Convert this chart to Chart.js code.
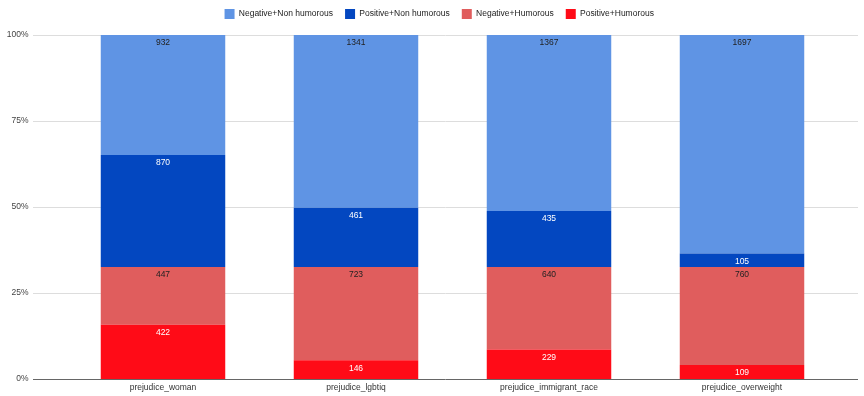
<!DOCTYPE html>
<html>
<head>
<meta charset="utf-8">
<script src="https://cdn.jsdelivr.net/npm/chart.js@4.4.1/dist/chart.umd.min.js"></script>
<style>
  html, body { margin: 0; padding: 0; background: #fff; }
  #wrap { position: relative; width: 864px; height: 396px; }
</style>
</head>
<body>
<div id="wrap"><canvas id="chart"></canvas></div>
<script>
// categories + counts per series (stacked to 100%)
const categories = ['prejudice_woman', 'prejudice_lgbtiq', 'prejudice_immigrant_race', 'prejudice_overweight'];
const posHumorous = [422, 146, 229, 109];
const negHumorous = [447, 723, 640, 760];
const posNonHumorous = [870, 461, 435, 105];
const negNonHumorous = [932, 1341, 1367, 1697];
const yTicks = ['0%', '25%', '50%', '75%', '100%'];

const totals = categories.map((c, i) => posHumorous[i] + negHumorous[i] + posNonHumorous[i] + negNonHumorous[i]);
const pct = arr => arr.map((v, i) => v / totals[i] * 100);

const FONT = '"Liberation Sans", Arial, sans-serif';

// bottom-to-top stacking order
const series = [
  { label: 'Positive+Humorous', counts: posHumorous, color: '#ff0b17', text: '#ffffff', legendPos: 3 },
  { label: 'Negative+Humorous', counts: negHumorous, color: '#e05d5d', text: '#222222', legendPos: 2 },
  { label: 'Positive+Non humorous', counts: posNonHumorous, color: '#0347c0', text: '#ffffff', legendPos: 1 },
  { label: 'Negative+Non humorous', counts: negNonHumorous, color: '#5f94e4', text: '#222222', legendPos: 0 }
];

// extended horizontal grid lines (Sheets style)
const gridPlugin = {
  id: 'gridExt',
  afterLayout(chart) {
    // nudge legend to sit centred over the whole canvas, close to the top
    chart.legend.left += 20;
    chart.legend.right += 20;
    chart.legend.top -= 6;
    chart.legend.bottom -= 6;
  },
  beforeDatasetsDraw(chart) {
    const ctx = chart.ctx, y = chart.scales.y;
    ctx.save();
    y.ticks.forEach(t => {
      const py = Math.round(y.getPixelForValue(t.value)) + 0.5;
      ctx.strokeStyle = t.value === 0 ? '#666666' : '#dddddd';
      ctx.lineWidth = 1;
      ctx.beginPath();
      ctx.moveTo(33, py);
      ctx.lineTo(858, py);
      ctx.stroke();
    });
    ctx.restore();
  }
};

// count labels at the top of each segment
const labelPlugin = {
  id: 'segLabels',
  afterDatasetsDraw(chart) {
    const ctx = chart.ctx;
    ctx.save();
    ctx.font = '8.5px ' + FONT;
    ctx.textAlign = 'center';
    ctx.textBaseline = 'middle';
    chart.data.datasets.forEach((ds, di) => {
      const meta = chart.getDatasetMeta(di);
      meta.data.forEach((bar, i) => {
        ctx.fillStyle = series[di].text;
        ctx.fillText(String(series[di].counts[i]), bar.x, bar.y + 8);
      });
    });
    ctx.restore();
  }
};

new Chart(document.getElementById('chart'), {
  type: 'bar',
  data: {
    labels: categories,
    datasets: series.map(s => ({
      label: s.label,
      data: pct(s.counts),
      backgroundColor: s.color,
      borderWidth: 0,
      categoryPercentage: 1,
      barPercentage: 0.645
    }))
  },
  options: {
    responsive: true,
    maintainAspectRatio: false,
    animation: false,
    layout: { padding: { left: 0, right: 25.5, top: 0, bottom: 0 } },
    plugins: {
      tooltip: { enabled: false },
      legend: {
        position: 'top',
        labels: {
          boxWidth: 10,
          boxHeight: 10,
          padding: 12,
          color: '#222222',
          font: { family: FONT, size: 8.5 },
          sort: (a, b) => series[a.datasetIndex].legendPos - series[b.datasetIndex].legendPos
        }
      }
    },
    scales: {
      x: {
        stacked: true,
        grid: { display: false, drawTicks: false },
        border: { display: false },
        ticks: {
          color: '#333333',
          padding: 4,
          font: { family: FONT, size: 8.5 }
        },
        afterFit: s => { s.height = 17; }
      },
      y: {
        stacked: true,
        min: 0,
        max: 100,
        grid: { display: false, drawTicks: false },
        border: { display: false },
        afterFit: s => { s.width = 66.5; s.paddingTop = 35; s.paddingBottom = 5; },
        afterBuildTicks: s => { s.ticks = yTicks.map(t => ({ value: parseFloat(t) })); },
        ticks: {
          color: '#444444',
          padding: 38,
          font: { family: FONT, size: 8.5 },
          callback: (v, i) => yTicks[i]
        }
      }
    }
  },
  plugins: [gridPlugin, labelPlugin]
});
</script>
</body>
</html>
